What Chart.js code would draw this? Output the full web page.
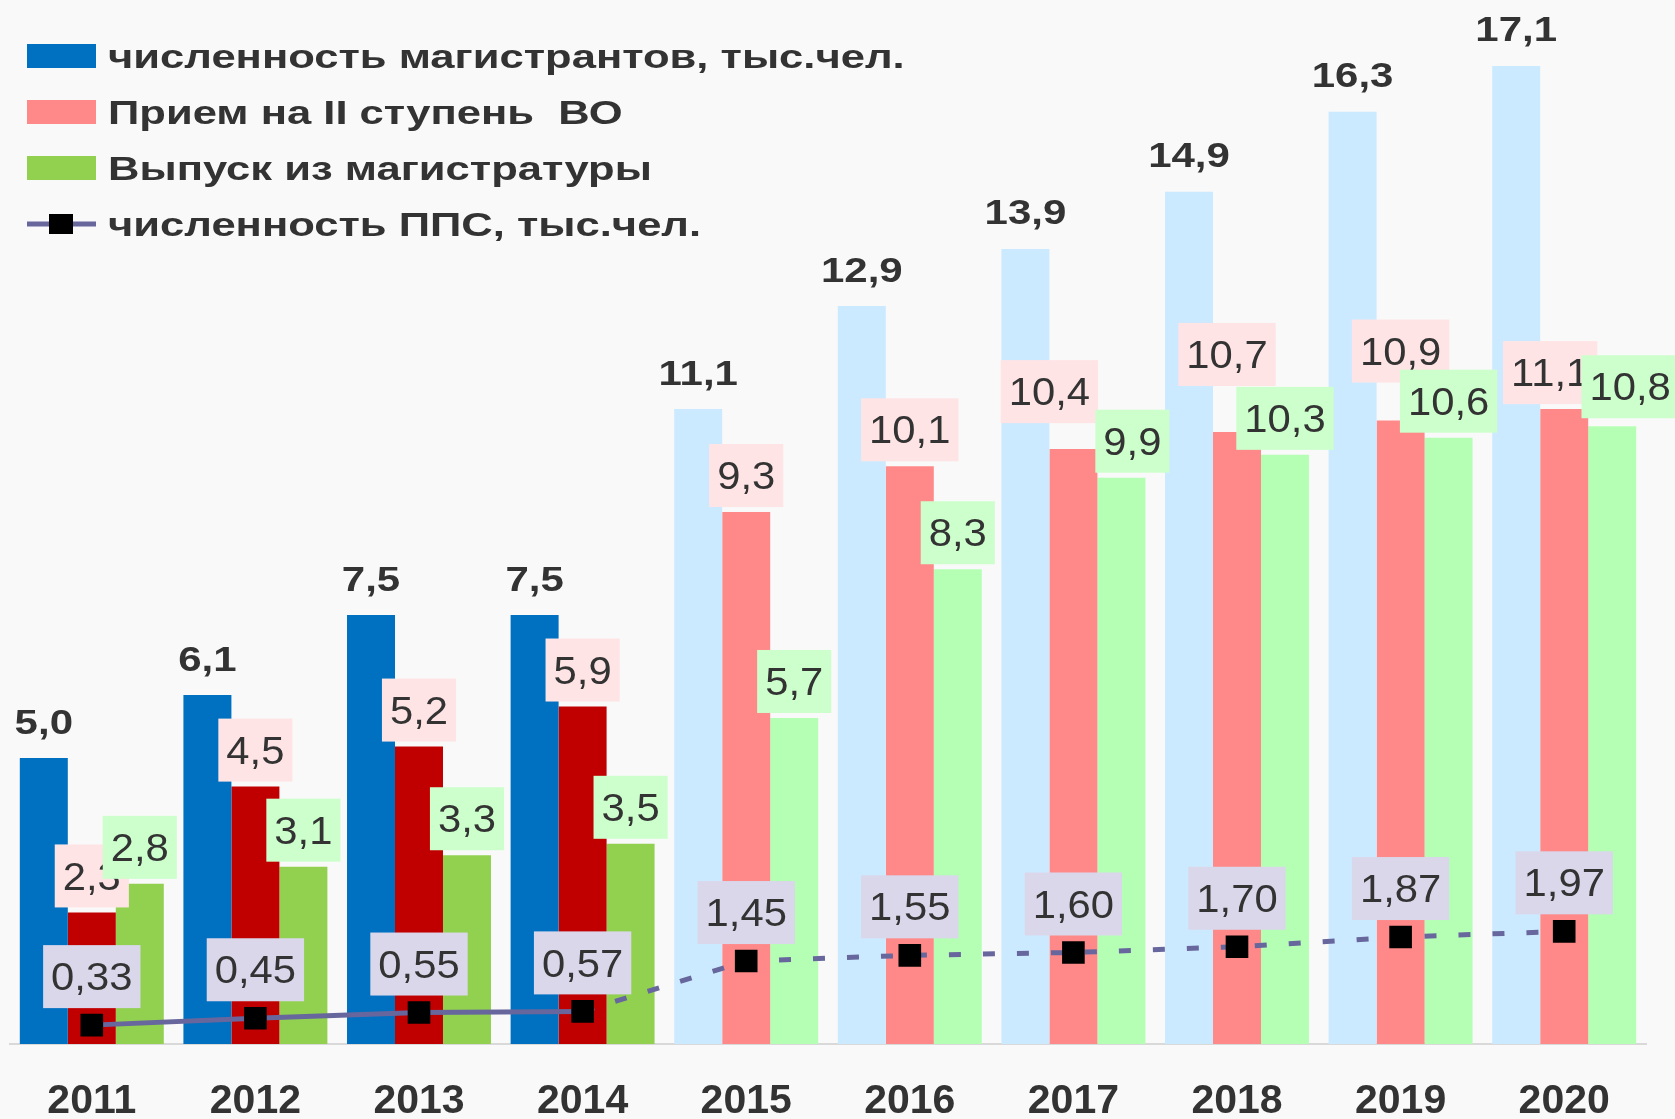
<!DOCTYPE html>
<html lang="ru">
<head>
<meta charset="utf-8">
<title>Магистратура</title>
<script src="https://cdn.jsdelivr.net/npm/chart.js@4.4.1/dist/chart.umd.min.js"></script>
<style>
  html, body { margin: 0; padding: 0; background: #f9f9f9; }
  #wrap { width: 1675px; height: 1119px; position: relative; }
</style>
</head>
<body>
<div id="wrap"><canvas id="chart"></canvas></div>
<script>
const years = ['2011', '2012', '2013', '2014', '2015', '2016', '2017', '2018', '2019', '2020'];
const magistrants = [5.0, 6.1, 7.5, 7.5, 11.1, 12.9, 13.9, 14.9, 16.3, 17.1];
const admission = [2.3, 4.5, 5.2, 5.9, 9.3, 10.1, 10.4, 10.7, 10.9, 11.1];
const graduates = [2.8, 3.1, 3.3, 3.5, 5.7, 8.3, 9.9, 10.3, 10.6, 10.8];
const staff = [0.33, 0.45, 0.55, 0.57, 1.45, 1.55, 1.60, 1.70, 1.87, 1.97];

const FONT = '"Liberation Sans", Arial, sans-serif';
const TEXT = '#333333';
const LINE = '#67679d';
const firstLight = 4; // с 2015 года столбцы бледные

function byYear(dark, light) {
  return years.map((_, i) => i < firstLight ? dark : light);
}

function fmt(v, digits) {
  return v.toFixed(digits).replace('.', ',');
}

// текст, растянутый по горизонтали, центр по высоте цифр
function stretched(ctx, text, cx, cy, size, weight, sx) {
  ctx.save();
  ctx.font = weight + ' ' + size + 'px ' + FONT;
  ctx.fillStyle = TEXT;
  ctx.textAlign = 'center';
  ctx.textBaseline = 'alphabetic';
  ctx.translate(cx, cy + size * 0.358);
  ctx.scale(sx, 1);
  ctx.fillText(text, 0, 0);
  ctx.restore();
}

function textWidth(ctx, text, size, weight, sx) {
  ctx.save();
  ctx.font = weight + ' ' + size + 'px ' + FONT;
  const w = ctx.measureText(text).width * sx;
  ctx.restore();
  return w;
}

function boxLabel(ctx, text, cx, bottom, bg) {
  const size = 38, sx = 1.1, h = 63;
  const w = textWidth(ctx, text, size, 'normal', sx) + 16;
  ctx.fillStyle = bg;
  ctx.fillRect(cx - w / 2, bottom - h, w, h);
  stretched(ctx, text, cx, bottom - h / 2, size, 'normal', sx);
}

const valueLabels = {
  id: 'valueLabels',
  afterDatasetsDraw(chart, args, opts) {
    const ctx = chart.ctx;
    chart.getDatasetMeta(0).data.forEach((el, i) => {
      stretched(ctx, fmt(magistrants[i], 1), el.x, el.y - 37, 35, 'bold', 1.2);
    });
    chart.getDatasetMeta(1).data.forEach((el, i) => {
      const n = opts.admissionNudge[i];
      boxLabel(ctx, fmt(admission[i], 1), el.x + n[0], el.y - 5 + n[1], '#ffe4e6');
    });
    chart.getDatasetMeta(2).data.forEach((el, i) => {
      const n = opts.graduatesNudge[i];
      boxLabel(ctx, fmt(graduates[i], 1), el.x + n[0], el.y - 5 + n[1], '#ccffcc');
    });
    chart.getDatasetMeta(3).data.forEach((el, i) => {
      boxLabel(ctx, fmt(staff[i], 2), el.x, el.y - 17, '#dad7eb');
    });
  }
};

const sideLegend = {
  id: 'sideLegend',
  afterDraw(chart) {
    const ctx = chart.ctx;
    chart.data.datasets.forEach((ds, i) => {
      const cy = 56 + i * 56;
      if (ds.type === 'line') {
        ctx.fillStyle = LINE;
        ctx.fillRect(27, cy - 2.5, 69, 5);
        ctx.fillStyle = '#000';
        ctx.fillRect(49, cy - 10, 24, 20);
      } else {
        ctx.fillStyle = ds.legendColor;
        ctx.fillRect(27, cy - 12, 69, 24);
      }
      ctx.save();
      ctx.font = 'bold 33px ' + FONT;
      ctx.fillStyle = TEXT;
      ctx.textAlign = 'left';
      ctx.textBaseline = 'alphabetic';
      ctx.translate(108, cy + 33 * 0.358);
      ctx.scale(1.32, 1);
      ctx.fillText(ds.label, 0, 0);
      ctx.restore();
    });
  }
};

new Chart(document.getElementById('chart'), {
  data: {
    labels: years,
    datasets: [
      {
        type: 'bar',
        label: 'численность магистрантов, тыс.чел.',
        data: magistrants,
        backgroundColor: byYear('#0070c0', '#cceaff'),
        legendColor: '#0070c0',
        order: 1
      },
      {
        type: 'bar',
        label: 'Прием на II ступень  ВО',
        data: admission,
        backgroundColor: byYear('#c00000', '#ff8989'),
        legendColor: '#ff8989',
        order: 1
      },
      {
        type: 'bar',
        label: 'Выпуск из магистратуры',
        data: graduates,
        backgroundColor: byYear('#92d050', '#b5ffb5'),
        legendColor: '#92d050',
        order: 1
      },
      {
        type: 'line',
        label: 'численность ППС, тыс.чел.',
        data: staff,
        borderColor: LINE,
        borderWidth: 5,
        tension: 0,
        pointStyle: 'rect',
        pointRadius: 16,
        pointBackgroundColor: '#000',
        pointBorderColor: '#000',
        pointBorderWidth: 0,
        segment: {
          borderDash: c => c.p0DataIndex >= firstLight - 1 ? [12, 22] : undefined
        },
        order: 0
      }
    ]
  },
  options: {
    responsive: true,
    maintainAspectRatio: false,
    animation: false,
    layout: { autoPadding: false, padding: { top: 14.4, left: 10, right: 29, bottom: 0 } },
    datasets: { bar: { categoryPercentage: 0.88, barPercentage: 1 } },
    scales: {
      x: {
        grid: { display: false, drawTicks: false },
        border: { color: '#d9d9d9', width: 2 },
        ticks: { color: TEXT, padding: 33, font: { family: FONT, size: 41, weight: 'bold' } },
        afterFit: s => { s.height = 75; s.paddingLeft = 0; s.paddingRight = 0; }
      },
      y: { display: false, min: 0, max: 18 }
    },
    plugins: {
      legend: { display: false },
      tooltip: { enabled: false },
      valueLabels: {
        admissionNudge: [[0, 0], [0, 0], [0, 0], [0, 0], [0, 0], [0, 0], [-24, -21], [-10, -41], [0, -33], [-14, 0]],
        graduatesNudge: [[0, 0], [0, 0], [0, 0], [0, 0], [0, 0], [0, 0], [11, 0], [0, 0], [0, 0], [18, -3]]
      }
    }
  },
  plugins: [valueLabels, sideLegend]
});
</script>
</body>
</html>
